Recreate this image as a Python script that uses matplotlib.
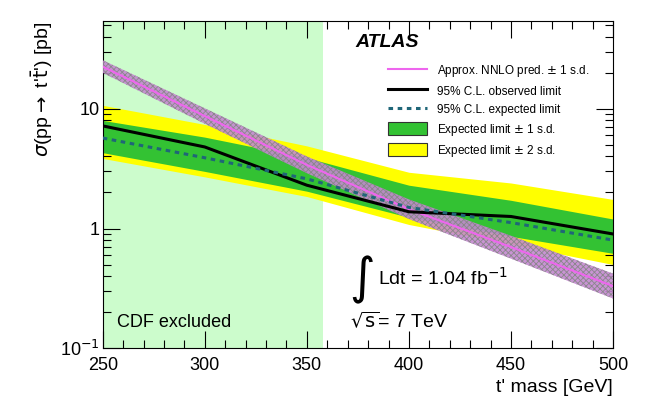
import matplotlib
matplotlib.use("Agg")
import matplotlib.pyplot as plt
from matplotlib.lines import Line2D
from matplotlib.patches import Patch
from matplotlib.ticker import FixedLocator, FixedFormatter, MultipleLocator

plt.rcParams['font.family'] = ['Liberation Sans', 'DejaVu Sans']
plt.rcParams['hatch.linewidth'] = 0.6

# t' mass points [GeV]
mass = [250, 300, 350, 400, 450, 500]

# 95% CL limits [pb]
observed = [7.2, 4.8, 2.3, 1.38, 1.26, 0.9]
expected = [5.7, 3.9, 2.6, 1.5, 1.12, 0.8]
exp_1s_lo = [4.3, 3.0, 2.05, 1.24, 0.86, 0.62]
exp_1s_hi = [8.0, 5.8, 3.9, 2.3, 1.72, 1.2]
exp_2s_lo = [3.85, 2.7, 1.85, 1.08, 0.74, 0.5]
exp_2s_hi = [10.7, 7.4, 4.9, 2.95, 2.4, 1.75]

# approx. NNLO prediction and its 1 s.d. band [pb]
theory = [22.5, 8.7, 3.4, 1.45, 0.70, 0.33]
theory_lo = [20.0, 7.5, 2.9, 1.2, 0.56, 0.26]
theory_hi = [25.5, 10.1, 4.0, 1.75, 0.87, 0.42]

cdf_limit = 358  # CDF excluded below this mass

ytick_vals = [0.1, 1, 10]
ytick_labels = ['10$^{-1}$', '1', '10']

fig = plt.figure(figsize=(6.46, 4.15), dpi=100)
ax = fig.add_axes([0.159, 0.161, 0.79, 0.788])

ax.axvspan(250, cdf_limit, color='#ccfccc', lw=0, zorder=0)
ax.fill_between(mass, exp_2s_lo, exp_2s_hi, color='#ffff00', lw=0, zorder=1)
ax.fill_between(mass, exp_1s_lo, exp_1s_hi, color='#33c233', lw=0, zorder=2)
ax.fill_between(mass, theory_lo, theory_hi, facecolor='#c488d0', edgecolor='#858585',
                hatch='xxxxxx', lw=0, alpha=0.9, zorder=3)
ax.plot(mass, theory, color='#ee66ee', lw=1.5, zorder=4)
ax.plot(mass, observed, color='black', lw=2.2, zorder=5)
ax.plot(mass, expected, color='#1f6678', lw=2.2, ls=(0, (1.5, 1.5)), zorder=5)

ax.set_yscale('log')
ax.set_xlim(250, 500)
ax.set_ylim(0.1, 54)

ax.xaxis.set_major_locator(MultipleLocator(50))
ax.xaxis.set_minor_locator(MultipleLocator(10))
ax.yaxis.set_major_locator(FixedLocator(ytick_vals))
ax.yaxis.set_major_formatter(FixedFormatter(ytick_labels))
ax.tick_params(which='both', direction='in', top=True, right=True, labelsize=13)
ax.tick_params(which='major', length=12, width=0.8)
ax.tick_params(which='minor', length=6, width=0.8)
ax.tick_params(axis='x', pad=6)
ax.tick_params(axis='y', pad=2)

ax.set_xlabel("t' mass [GeV]", fontsize=14, loc='right')
ax.set_ylabel(r"$\sigma$(pp$\rightarrow$ t'$\bar{\rm t}$') [pb]", fontsize=14, loc='top')

ax.text(0.495, 0.92, 'ATLAS', transform=ax.transAxes, fontsize=14,
        fontweight='bold', fontstyle='italic')
# large integral sign, then the luminosity text
ax.text(0.482, 0.21, r'$\int$', transform=ax.transAxes, fontsize=25, va='center')
ax.text(0.54, 0.215, r'Ldt = 1.04 fb$^{-1}$', transform=ax.transAxes, fontsize=14,
        va='center')
ax.text(0.485, 0.065, r'$\sqrt{\rm s}$= 7 TeV', transform=ax.transAxes, fontsize=14)
ax.text(0.028, 0.065, 'CDF excluded', transform=ax.transAxes, fontsize=13)

handles = [
    Line2D([], [], color='#ee66ee', lw=1.5),
    Line2D([], [], color='black', lw=2.2),
    Line2D([], [], color='#1f6678', lw=2.2, ls=(0, (1.5, 1.5))),
    Patch(facecolor='#33c233', edgecolor='#333333', lw=0.8),
    Patch(facecolor='#ffff00', edgecolor='#333333', lw=0.8),
]
labels = [
    'Approx. NNLO pred. $\\pm$ 1 s.d.',
    '95% C.L. observed limit',
    '95% C.L. expected limit',
    'Expected limit $\\pm$ 1 s.d.',
    'Expected limit $\\pm$ 2 s.d.',
]
ax.legend(handles, labels, loc='upper left', bbox_to_anchor=(0.55, 0.887),
          frameon=False, fontsize=8.5, handlelength=3.3, handleheight=1.3,
          labelspacing=0.45, handletextpad=0.8, borderaxespad=0)

fig.savefig('out.png', dpi=100)
